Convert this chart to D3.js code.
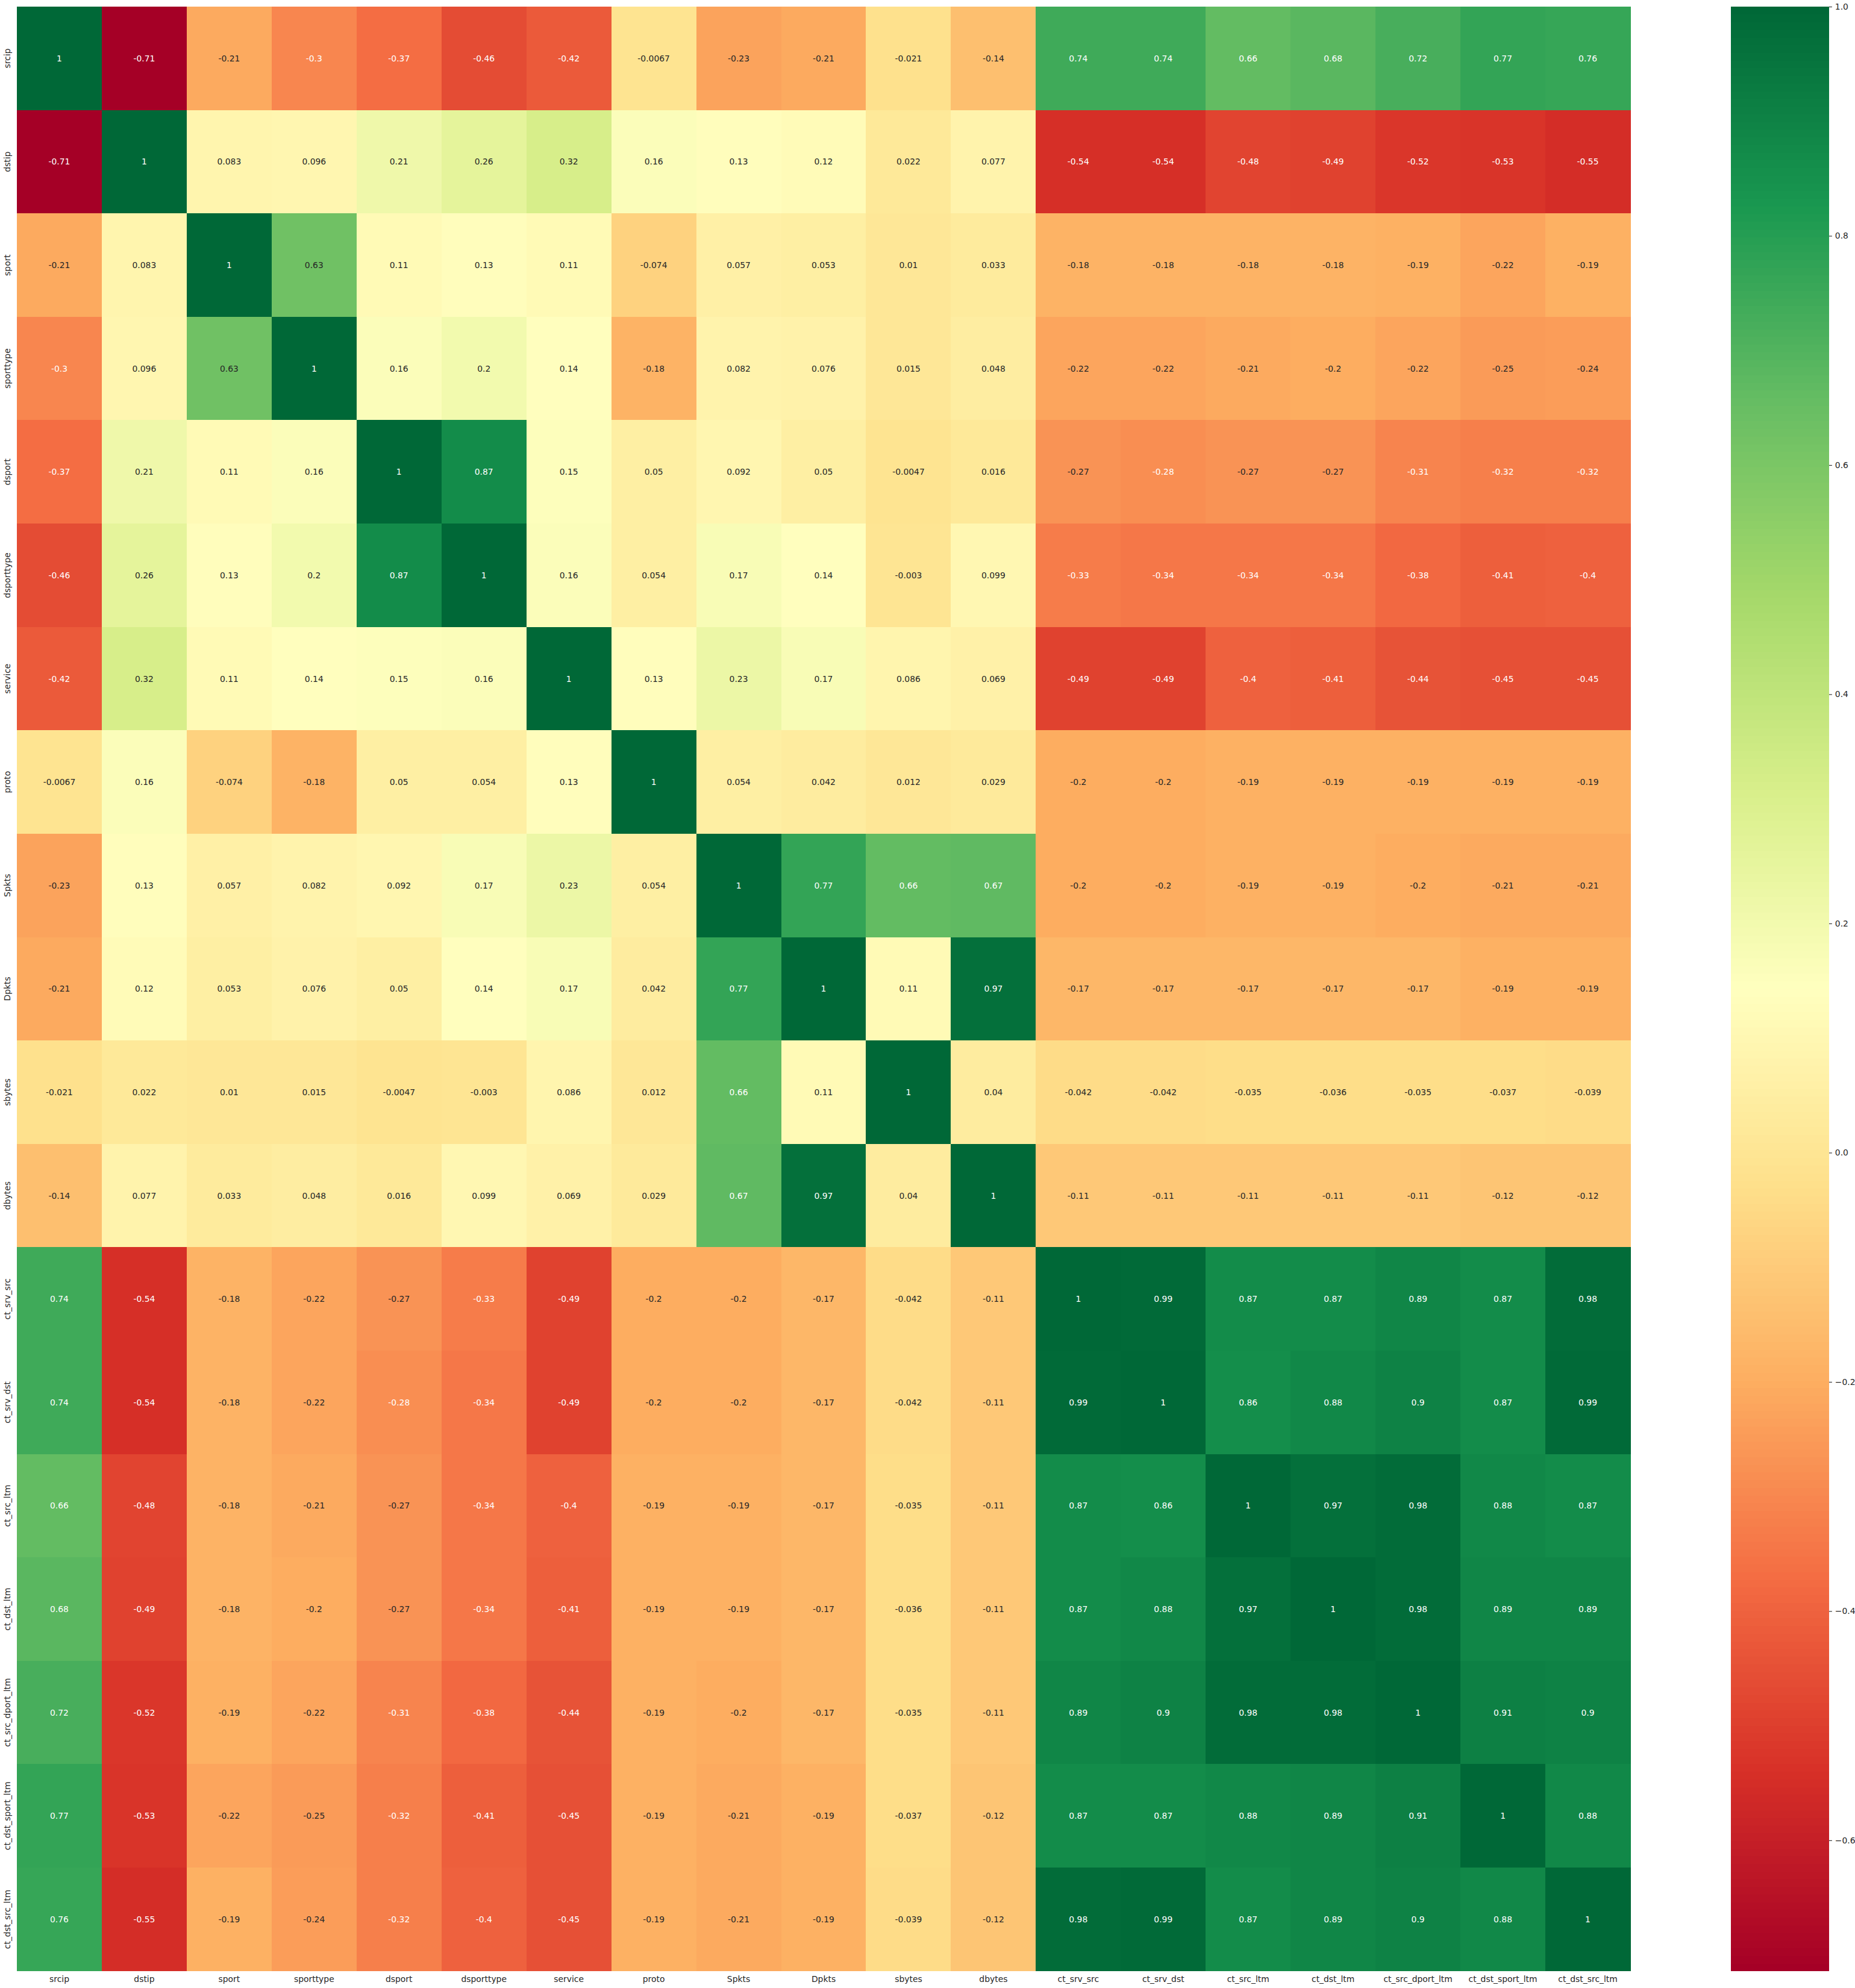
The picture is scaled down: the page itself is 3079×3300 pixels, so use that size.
<!DOCTYPE html>
<html>
<head>
<meta charset="utf-8">
<script src="https://cdn.jsdelivr.net/npm/d3@7"></script>
<style>
  html, body { margin: 0; padding: 0; background: #ffffff; }
  svg { display: block; }
  text { font-family: "DejaVu Sans", sans-serif; }
</style>
</head>
<body>
<svg id="chart" width="3079" height="3300"></svg>
<script>
// ---------------- DATA ----------------
const labels = ["srcip","dstip","sport","sporttype","dsport","dsporttype","service","proto","Spkts","Dpkts","sbytes","dbytes","ct_srv_src","ct_srv_dst","ct_src_ltm","ct_dst_ltm","ct_src_dport_ltm","ct_dst_sport_ltm","ct_dst_src_ltm"];

const corr = [
  [1, -0.714, -0.21, -0.3, -0.37, -0.46, -0.42, -0.0067, -0.23, -0.21, -0.021, -0.14, 0.74, 0.74, 0.66, 0.68, 0.72, 0.77, 0.76],
  [-0.714, 1, 0.083, 0.096, 0.21, 0.26, 0.32, 0.16, 0.13, 0.12, 0.022, 0.077, -0.54, -0.54, -0.48, -0.49, -0.52, -0.53, -0.55],
  [-0.21, 0.083, 1, 0.63, 0.11, 0.13, 0.11, -0.074, 0.057, 0.053, 0.01, 0.033, -0.18, -0.18, -0.18, -0.18, -0.19, -0.22, -0.19],
  [-0.3, 0.096, 0.63, 1, 0.16, 0.2, 0.14, -0.18, 0.082, 0.076, 0.015, 0.048, -0.22, -0.22, -0.21, -0.2, -0.22, -0.25, -0.24],
  [-0.37, 0.21, 0.11, 0.16, 1, 0.87, 0.15, 0.05, 0.092, 0.05, -0.0047, 0.016, -0.27, -0.28, -0.27, -0.27, -0.31, -0.32, -0.32],
  [-0.46, 0.26, 0.13, 0.2, 0.87, 1, 0.16, 0.054, 0.17, 0.14, -0.003, 0.099, -0.33, -0.34, -0.34, -0.34, -0.38, -0.41, -0.4],
  [-0.42, 0.32, 0.11, 0.14, 0.15, 0.16, 1, 0.13, 0.23, 0.17, 0.086, 0.069, -0.49, -0.49, -0.4, -0.41, -0.44, -0.45, -0.45],
  [-0.0067, 0.16, -0.074, -0.18, 0.05, 0.054, 0.13, 1, 0.054, 0.042, 0.012, 0.029, -0.2, -0.2, -0.19, -0.19, -0.19, -0.19, -0.19],
  [-0.23, 0.13, 0.057, 0.082, 0.092, 0.17, 0.23, 0.054, 1, 0.77, 0.66, 0.67, -0.2, -0.2, -0.19, -0.19, -0.2, -0.21, -0.21],
  [-0.21, 0.12, 0.053, 0.076, 0.05, 0.14, 0.17, 0.042, 0.77, 1, 0.11, 0.97, -0.17, -0.17, -0.17, -0.17, -0.17, -0.19, -0.19],
  [-0.021, 0.022, 0.01, 0.015, -0.0047, -0.003, 0.086, 0.012, 0.66, 0.11, 1, 0.04, -0.042, -0.042, -0.035, -0.036, -0.035, -0.037, -0.039],
  [-0.14, 0.077, 0.033, 0.048, 0.016, 0.099, 0.069, 0.029, 0.67, 0.97, 0.04, 1, -0.11, -0.11, -0.11, -0.11, -0.11, -0.12, -0.12],
  [0.74, -0.54, -0.18, -0.22, -0.27, -0.33, -0.49, -0.2, -0.2, -0.17, -0.042, -0.11, 1, 0.99, 0.87, 0.87, 0.89, 0.87, 0.98],
  [0.74, -0.54, -0.18, -0.22, -0.28, -0.34, -0.49, -0.2, -0.2, -0.17, -0.042, -0.11, 0.99, 1, 0.86, 0.88, 0.9, 0.87, 0.99],
  [0.66, -0.48, -0.18, -0.21, -0.27, -0.34, -0.4, -0.19, -0.19, -0.17, -0.035, -0.11, 0.87, 0.86, 1, 0.97, 0.98, 0.88, 0.87],
  [0.68, -0.49, -0.18, -0.2, -0.27, -0.34, -0.41, -0.19, -0.19, -0.17, -0.036, -0.11, 0.87, 0.88, 0.97, 1, 0.98, 0.89, 0.89],
  [0.72, -0.52, -0.19, -0.22, -0.31, -0.38, -0.44, -0.19, -0.2, -0.17, -0.035, -0.11, 0.89, 0.9, 0.98, 0.98, 1, 0.91, 0.9],
  [0.77, -0.53, -0.22, -0.25, -0.32, -0.41, -0.45, -0.19, -0.21, -0.19, -0.037, -0.12, 0.87, 0.87, 0.88, 0.89, 0.91, 1, 0.88],
  [0.76, -0.55, -0.19, -0.24, -0.32, -0.4, -0.45, -0.19, -0.21, -0.19, -0.039, -0.12, 0.98, 0.99, 0.87, 0.89, 0.9, 0.88, 1]
];

const cbTicks = [-0.6, -0.4, -0.2, 0.0, 0.2, 0.4, 0.6, 0.8, 1.0];

// RdYlGn (ColorBrewer 11) control colours, as used by matplotlib
const rdylgn = ["#a50026","#d73027","#f46d43","#fdae61","#fee08b","#ffffbf","#d9ef8b","#a6d96a","#66bd63","#1a9850","#006837"];

// ---------------- LAYOUT ----------------
const plot = { left: 28, top: 11, right: 2706, bottom: 3271.7 };
const cbar = { left: 2873, right: 3036 };
const FS = 13.9;
const TXT = "#262626";

const svg = d3.select("#chart");

// colour map: 256-entry LUT, linear segments
const interp = d3.scaleLinear()
  .domain(d3.range(rdylgn.length).map(i => i / (rdylgn.length - 1)))
  .range(rdylgn)
  .interpolate(d3.interpolateRgb);
const lut = d3.range(256).map(i => interp(i / 255));

const flat = corr.flat();
const vmin = d3.min(flat), vmax = d3.max(flat);
function colorOf(v) {
  let idx = Math.floor((v - vmin) / (vmax - vmin) * 256);
  idx = Math.max(0, Math.min(255, idx));
  return lut[idx];
}
function lum(c) {
  const rgb = d3.rgb(c);
  const ch = [rgb.r, rgb.g, rgb.b].map(x => {
    x = x / 255;
    return x <= 0.03928 ? x / 12.92 : Math.pow((x + 0.055) / 1.055, 2.4);
  });
  return 0.2126 * ch[0] + 0.7152 * ch[1] + 0.0722 * ch[2];
}

const x = d3.scaleBand().domain(labels).range([plot.left, plot.right]).padding(0);
const y = d3.scaleBand().domain(labels).range([plot.top, plot.bottom]).padding(0);

const cells = [];
corr.forEach((row, i) => row.forEach((v, j) => cells.push({ r: labels[i], c: labels[j], v })));

const fmt = d3.formatLocale({ decimal: ".", thousands: ",", grouping: [3], currency: ["", ""], minus: "-" }).format(".2~g");

svg.append("g").selectAll("rect").data(cells).join("rect")
  .attr("x", d => x(d.c))
  .attr("y", d => y(d.r))
  .attr("width", x.bandwidth() + 0.5)
  .attr("height", y.bandwidth() + 0.5)
  .attr("fill", d => colorOf(d.v))
  .attr("shape-rendering", "crispEdges");

svg.append("g").selectAll("text").data(cells).join("text")
  .attr("x", d => x(d.c) + x.bandwidth() / 2)
  .attr("y", d => y(d.r) + y.bandwidth() / 2)
  .attr("text-anchor", "middle")
  .attr("dominant-baseline", "central")
  .attr("font-size", FS)
  .attr("fill", d => lum(colorOf(d.v)) > 0.408 ? TXT : "#ffffff")
  .text(d => fmt(d.v));

// x axis
const gx = svg.append("g")
  .attr("transform", `translate(0,${plot.bottom})`)
  .call(d3.axisBottom(x).tickSize(0).tickPadding(8.4));
gx.select(".domain").remove();
gx.selectAll("text")
  .attr("font-size", FS)
  .attr("font-family", "DejaVu Sans")
  .attr("fill", TXT);

// y axis (vertical labels)
const gy = svg.append("g")
  .attr("transform", `translate(${plot.left},0)`)
  .call(d3.axisLeft(y).tickSize(0));
gy.select(".domain").remove();
gy.selectAll("text")
  .attr("transform", "rotate(-90)")
  .attr("x", 0)
  .attr("y", -11)
  .attr("dy", null)
  .attr("text-anchor", "middle")
  .attr("font-size", FS)
  .attr("font-family", "DejaVu Sans")
  .attr("fill", TXT);

// colorbar
const cy = d3.scaleLinear().domain([vmin, vmax]).range([plot.bottom, plot.top]);
const segH = (plot.bottom - plot.top) / 256;
svg.append("g").selectAll("rect").data(lut).join("rect")
  .attr("x", cbar.left)
  .attr("width", cbar.right - cbar.left)
  .attr("y", (d, i) => plot.bottom - (i + 1) * segH)
  .attr("height", segH + 0.6)
  .attr("fill", d => d)
  .attr("shape-rendering", "crispEdges");

const gc = svg.append("g")
  .attr("transform", `translate(${cbar.right},0)`)
  .call(d3.axisRight(cy).tickValues(cbTicks).tickFormat(d3.format(".1f")).tickSize(4.86).tickPadding(5));
gc.select(".domain").remove();
gc.selectAll("line").attr("stroke", TXT).attr("stroke-width", 1.1);
gc.selectAll("text")
  .attr("font-size", FS)
  .attr("font-family", "DejaVu Sans")
  .attr("fill", TXT);
</script>
</body>
</html>
